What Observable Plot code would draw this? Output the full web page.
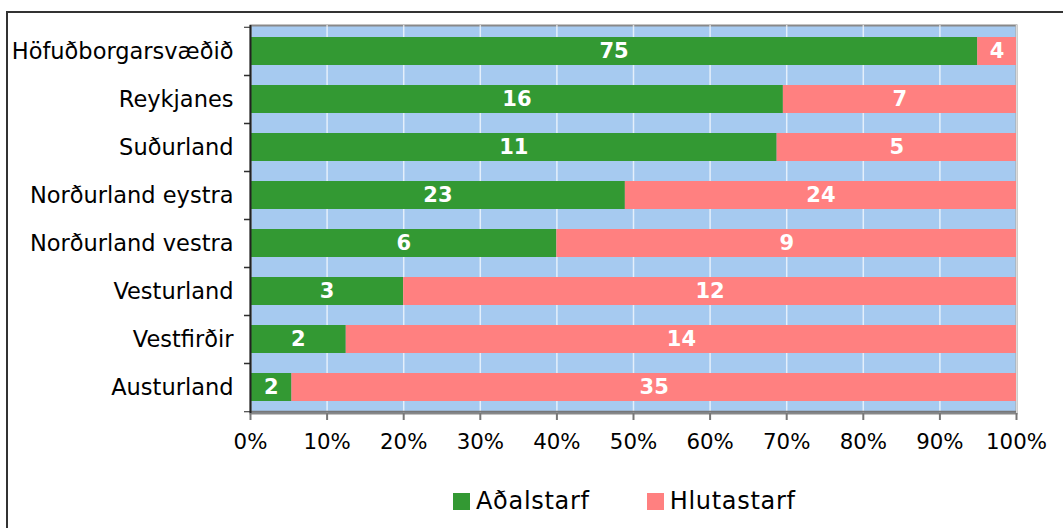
<!DOCTYPE html>
<html><head><meta charset="utf-8">
<script src="https://cdn.jsdelivr.net/npm/d3@7"></script>
<script src="https://cdn.jsdelivr.net/npm/@observablehq/plot@0.6"></script>
<style>
body{margin:0;background:#fff;font-family:"DejaVu Sans",sans-serif;}
#wrap{position:relative;width:1063px;height:528px;overflow:hidden;}
#border{position:absolute;left:6px;top:11px;width:1100px;height:600px;border:2px solid #333;box-sizing:border-box}
#chart{position:absolute;left:0;top:0}
#legend{position:absolute;top:487px;left:453px;display:flex;align-items:center;font-size:24px;letter-spacing:0.7px;color:#000}
.sw{width:17px;height:17px;display:inline-block;margin-right:6px}
</style></head><body>
<div id="wrap"><div id="border"></div><div id="chart"></div><div id="legend"></div></div>
<script>
const regions = ["Höfuðborgarsvæðið","Reykjanes","Suðurland","Norðurland eystra","Norðurland vestra","Vesturland","Vestfirðir","Austurland"];
const adalstarf = [75,16,11,23,6,3,2,2];
const hlutastarf = [4,7,5,24,9,12,14,35];
const series = ["Aðalstarf","Hlutastarf"];
const colors = ["#339933","#FF8080"];
const xTicks = [0,0.1,0.2,0.3,0.4,0.5,0.6,0.7,0.8,0.9,1];

const data = [];
regions.forEach((r,i)=>data.push({region:r,type:series[0],value:adalstarf[i]}));
regions.forEach((r,i)=>data.push({region:r,type:series[1],value:hlutastarf[i]}));

const W=1063, H=460, mT=25, mB=47, mL=250, mR=47;
const step = (H-mT-mB)/regions.length;

const chart = Plot.plot({
  width: W, height: H,
  marginTop: mT, marginBottom: mB, marginLeft: mL, marginRight: mR,
  style: {fontFamily: "DejaVu Sans", fontSize: "20px", color: "black", background: "transparent", overflow: "visible"},
  x: {domain: [0,1], axis: null},
  y: {domain: regions, paddingInner: 0.42, paddingOuter: 0.21, axis: null},
  color: {domain: series, range: colors},
  marks: [
    Plot.frame({fill: "#A6CAF0", stroke: "#888888", strokeWidth: 2}),
    Plot.gridX(xTicks, {stroke: "#ffffff", strokeOpacity: 0.7, strokeWidth: 1.5}),
    Plot.barX(data, Plot.stackX({offset: "normalize", x: "value", y: "region", fill: "type"})),
    Plot.text(data, Plot.stackX({offset: "normalize", x: "value", y: "region", z: "type", text: d => String(d.value), fill: "white", fontWeight: "bold", fontSize: 21, letterSpacing: 1})),
    Plot.axisY({tickSize: 0, tickPadding: 17, fill: "black", fontSize: 22.5, label: null}),
    Plot.axisY({tickSize: 6, tickFormat: () => "", dy: step/2, stroke: "#222", label: null}),
    Plot.axisY({tickSize: 6, tickFormat: () => "", dy: -step/2, stroke: "#222", label: null}),
    Plot.axisX({ticks: xTicks, tickFormat: d => Math.round(d*100) + "%", tickSize: 7, tickPadding: 13, stroke: "#777", strokeWidth: 2, fill: "black", fontSize: 21.3, label: null}),
    Plot.ruleY([regions[regions.length-1]], {dy: step/2, stroke: "#777", strokeWidth: 2}),
    Plot.ruleX([0], {stroke: "#222", strokeWidth: 2})
  ]
});
document.getElementById("chart").appendChild(chart);

const lg = document.getElementById("legend");
series.forEach((s,i)=>{
  const item = document.createElement("span");
  item.style.display="flex"; item.style.alignItems="center";
  item.style.marginRight = i===0 ? "57px" : "0";
  const sw = document.createElement("span"); sw.className="sw"; sw.style.background=colors[i];
  const t = document.createElement("span"); t.textContent = s;
  item.appendChild(sw); item.appendChild(t); lg.appendChild(item);
});
</script></body></html>
